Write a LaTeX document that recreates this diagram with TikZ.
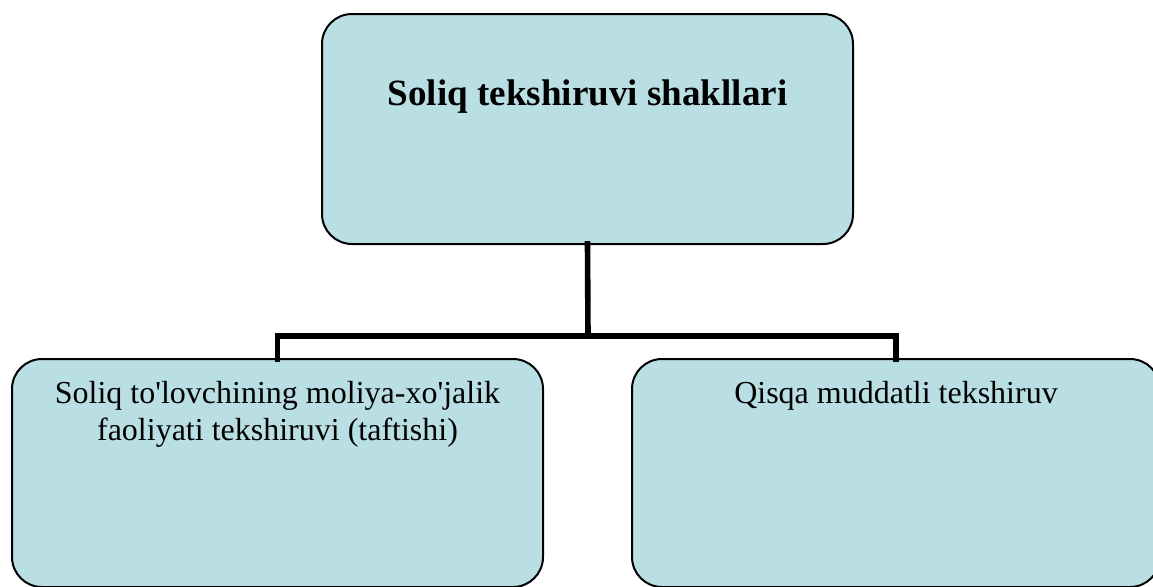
\documentclass[tikz,border=0pt]{standalone}
\usepackage{fontspec}
\setmainfont{Liberation Serif}
\definecolor{boxfill}{RGB}{185,223,228}
\begin{document}
\begin{tikzpicture}[x=0.75pt,y=-0.75pt,
  shapebox/.style={draw=black, line width=1.5pt, fill=boxfill, rounded corners=22.5pt, inner sep=0pt, outer sep=0pt},
  titletext/.style={font=\fontsize{27.8}{32}\selectfont\bfseries, inner sep=0pt},
  bodytext/.style={font=\fontsize{24}{27.75}\selectfont, inner sep=0pt},
  link/.style={line width=4.2pt, line join=miter, line cap=rect}]
\useasboundingbox (0,0) rectangle (1153,586);
\node[shapebox, minimum width=398.25pt, minimum height=172.5pt] (top) at (587.5,129) {};
\node[shapebox, minimum width=398.25pt, minimum height=171pt] (lb) at (277.5,473) {};
\node[shapebox, minimum width=396pt, minimum height=171pt] (rb) at (896,473) {};
\node[titletext, anchor=base] (toptext) at (587.5,105) {Soliq tekshiruvi shakllari};
\node[bodytext, anchor=base] (lbtext1) at (277.5,403) {Soliq to\textquotesingle lovchining moliya-xo\textquotesingle jalik};
\node[bodytext, anchor=base] (lbtext2) at (277.5,440) {faoliyati tekshiruvi (taftishi)};
\node[bodytext, anchor=base] (rbtext) at (896,403) {Qisqa muddatli tekshiruv};
\coordinate (j) at (588,336);
\draw[link] (top.south) -- (j);
\draw[link] (lb.north) -- (lb.north |- j) -- (rb.north |- j) -- (rb.north);
\end{tikzpicture}
\end{document}
